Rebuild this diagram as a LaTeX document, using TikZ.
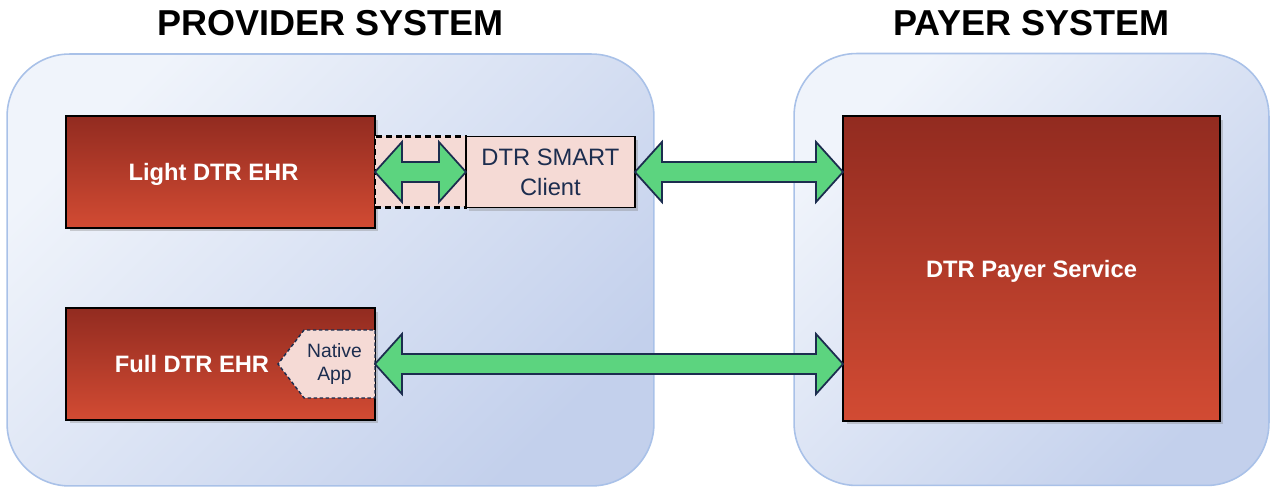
\documentclass[tikz,border=0pt]{standalone}
\usepackage{fontspec}
\setmainfont{Liberation Sans}
\usetikzlibrary{positioning,shadows,shapes.symbols,calc}

\definecolor{redtop}{HTML}{922B20}
\definecolor{redbot}{HTML}{D24B33}
\definecolor{pinkfill}{HTML}{F5DAD5}
\definecolor{navy}{HTML}{1C2D4F}
\definecolor{greenfill}{HTML}{5CD47F}
\definecolor{boxline}{HTML}{A9C1E8}
\definecolor{paleA}{HTML}{F0F4FB}
\definecolor{paleD}{HTML}{C3D0EC}

\tikzset{
	container/.style={draw=boxline, line width=0.9pt, rounded corners=1.25cm,
		top color=paleA, bottom color=paleD, shading angle=45},
	title/.style={font=\fontsize{20.5}{24}\selectfont\bfseries, inner sep=0pt},
	boxshadow/.style={drop shadow={shadow xshift=2pt, shadow yshift=-2pt, opacity=0.35}},
	ehr/.style={draw=black, line width=1.1pt, outer sep=0pt, top color=redtop, bottom color=redbot,
		text=white, text depth=0pt, font=\fontsize{13.5}{17}\selectfont\bfseries, boxshadow},
	client/.style={draw=black, line width=1.1pt, outer sep=0pt, fill=pinkfill, text=navy, align=center,
		font=\fontsize{13.5}{17}\selectfont, boxshadow},
	slot/.style={draw=black, line width=1.2pt, outer sep=0pt, dash pattern=on 3.4pt off 2.2pt, fill=pinkfill},
	app/.style={signal, signal to=west, signal from=nowhere, signal pointer angle=105,
		draw=navy, line width=0.8pt, dash pattern=on 2pt off 1.4pt, fill=pinkfill, outer sep=0pt,
		text=navy, align=center, font=\fontsize{11}{12.7}\selectfont, inner sep=0pt},
	flow/.style={draw=navy, line width=1pt, fill=greenfill, line join=miter},
}

\begin{document}
\begin{tikzpicture}[x=0.02cm, y=-0.02cm]
	\useasboundingbox (0,0) rectangle (1275,492);

	\node [container, minimum width=12.94cm, minimum height=8.64cm] (l) at (330.5,270) {};
	\node [container, minimum width=9.5cm, minimum height=8.64cm] (r) at (1031.5,269.5) {};
	\node [title, above=0.34cm of l] (t1) {PROVIDER SYSTEM};
	\node [title, above=0.34cm of r] (t2) {PAYER SYSTEM};

	\node [ehr, minimum width=6.18cm, minimum height=2.24cm] (a) at (220.5,172)
		{\hspace*{-0.28cm}Light DTR EHR};
	\node [slot, minimum width=1.82cm, minimum height=1.42cm, right=0pt of a] (b) {};
	\node [client, minimum width=3.38cm, minimum height=1.42cm, right=0pt of b] (c)
		{DTR SMART\\Client};

	\node [ehr, minimum width=6.18cm, minimum height=2.24cm] (d) at (220.5,364)
		{\hspace*{-1.14cm}Full DTR EHR};
	\node [app, minimum width=1.94cm, minimum height=1.36cm, anchor=east] (f) at (d.east)
		{\hspace*{-0.2cm}Native\\\hspace*{-0.2cm}App};

	\node [ehr, minimum width=7.54cm, minimum height=6.1cm] (e) at (1031.5,268.5)
		{DTR Payer Service};

	\coordinate (p) at (e.west |- c.east);
	\coordinate (q) at (e.west |- f.east);

	% fat double arrows
	\foreach \s/\t in {a.east/c.west, c.east/p, f.east/q}
		\draw [flow] (\s) -- ++(27,-30) -- ++(0,20) -- ($(\t)+(-27,-10)$) -- ++(0,-20)
			-- (\t) -- ++(-27,30) -- ++(0,-20) -- ($(\s)+(27,10)$) -- ++(0,20) -- cycle;
\end{tikzpicture}
\end{document}
